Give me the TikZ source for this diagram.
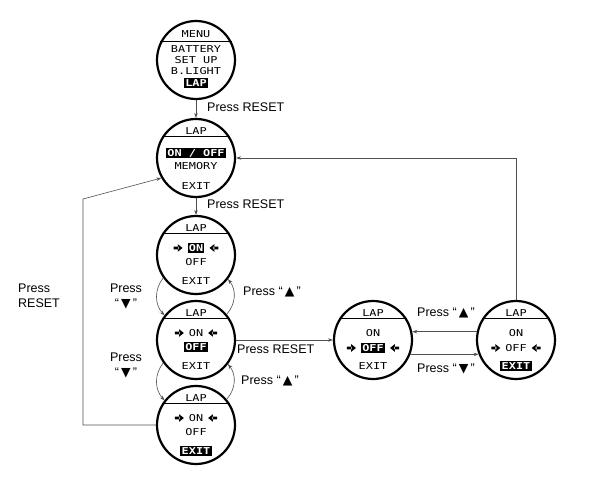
\documentclass[tikz,border=0pt]{standalone}
\usepackage{fontspec}
\setmainfont{Liberation Sans}
\newfontfamily\lcdfont[FakeStretch=1.25]{DejaVu Sans Mono}
\newfontfamily\symfont{DejaVu Sans}
\usetikzlibrary{arrows.meta, calc}
\definecolor{wire}{RGB}{80,80,80}
\newcommand{\keyup}{{\symfont ▲}}
\newcommand{\keydown}{{\symfont ▼}}
\newcommand{\selbox}[1]{{\setlength{\fboxsep}{1.3pt}\colorbox{black}{\textcolor{white}{\bfseries #1}}}}
\newcommand{\ptrR}{\tikz[baseline=-3.5pt]\fill (0pt,-1.4pt) rectangle (5pt,1.4pt) (4.2pt,-3.8pt) -- (9pt,0pt) -- (4.2pt,3.8pt) -- cycle;\kern5pt}
\newcommand{\ptrL}{\kern5pt\tikz[baseline=-3.5pt]\fill (9pt,-1.4pt) rectangle (4pt,1.4pt) (4.8pt,-3.8pt) -- (0pt,0pt) -- (4.8pt,3.8pt) -- cycle;}
\tikzset{
  screen/.style={circle, draw, line width=2.2pt, minimum size=78pt, inner sep=0pt},
  sepline/.style={line width=1.4pt},
  lcd/.style={font=\lcdfont\fontsize{9.5}{10}\selectfont, inner sep=0pt},
  lbl/.style={font=\fontsize{12.5}{15}\selectfont, inner sep=1pt},
  conn/.style={-{Stealth[length=5pt,width=3.5pt]}, line width=0.6pt, color=wire}
}
\begin{document}
\begin{tikzpicture}[x=1pt, y=-1pt]
  \useasboundingbox (0,0) rectangle (605,492);

  % screens
  \node[screen] (menu) at (196,60) {};
  \node[screen] (lapmenu) at (196,158) {};
  \node[screen] (seton) at (196,255) {};
  \node[screen] (setoff) at (196,340) {};
  \node[screen] (setexit) at (196,425) {};
  \node[screen] (offsel) at (373,340) {};
  \node[screen] (offexit) at (516,340) {};

  % main menu
  \node[lcd] (menuhd) at ([yshift=26pt]menu.center) {MENU};
  \draw[sepline] (menu.153) -- (menu.27);
  \node[lcd] (menubat) at ([yshift=11pt]menu.center) {BATTERY};
  \node[lcd] (menuset) at (menu.center) {SET UP};
  \node[lcd] (menubl) at ([yshift=-11pt]menu.center) {B.LIGHT};
  \node[lcd] (menulap) at ([yshift=-23pt]menu.center) {\selbox{LAP}};

  % lap menu
  \node[lcd] (laphd) at ([yshift=27pt]lapmenu.center) {LAP};
  \draw[sepline] (lapmenu.148) -- (lapmenu.32);
  \node[lcd] (lapon) at ([yshift=5pt]lapmenu.center) {\selbox{ON / OFF}};
  \node[lcd] (lapmem) at ([yshift=-8pt]lapmenu.center) {MEMORY};
  \node[lcd] (lapexit) at ([yshift=-28pt]lapmenu.center) {EXIT};

  % lap on/off screens
  \foreach \s in {seton, setoff, setexit, offsel, offexit} {
    \node[lcd] (\s hd) at ([yshift=27pt]\s.center) {LAP};
    \draw[sepline] (\s.148) -- (\s.32);
  }
  \node[lcd] (seton1) at ([yshift=7pt]seton.center) {\ptrR\selbox{ON}\ptrL};
  \node[lcd] (seton2) at ([yshift=-7pt]seton.center) {OFF};
  \node[lcd] (seton3) at ([yshift=-26pt]seton.center) {EXIT};
  \node[lcd] (setoff1) at ([yshift=7pt]setoff.center) {\ptrR ON\ptrL};
  \node[lcd] (setoff2) at ([yshift=-7pt]setoff.center) {\selbox{OFF}};
  \node[lcd] (setoff3) at ([yshift=-26pt]setoff.center) {EXIT};
  \node[lcd] (setexit1) at ([yshift=7pt]setexit.center) {\ptrR ON\ptrL};
  \node[lcd] (setexit2) at ([yshift=-7pt]setexit.center) {OFF};
  \node[lcd] (setexit3) at ([yshift=-26pt]setexit.center) {\selbox{EXIT}};
  \node[lcd] (offsel1) at ([yshift=7pt]offsel.center) {ON};
  \node[lcd] (offsel2) at ([yshift=-8pt]offsel.center) {\ptrR\selbox{OFF}\ptrL};
  \node[lcd] (offsel3) at ([yshift=-26pt]offsel.center) {EXIT};
  \node[lcd] (offexit1) at ([yshift=7pt]offexit.center) {ON};
  \node[lcd] (offexit2) at ([yshift=-8pt]offexit.center) {\ptrR OFF\ptrL};
  \node[lcd] (offexit3) at ([yshift=-26pt]offexit.center) {\selbox{EXIT}};

  % connectors
  \draw[conn] (menu) -- (lapmenu);
  \node[lbl, anchor=west] (resetA) at (206,107) {Press RESET};
  \draw[conn] (lapmenu) -- (seton);
  \node[lbl, anchor=west] (resetB) at (206,204) {Press RESET};

  \draw[conn] (seton.215) to[bend right=40] (setoff.142);
  \draw[conn] (setoff.40) to[bend right=40] (seton.-37);
  \draw[conn] (setoff.215) to[bend right=40] (setexit.142);
  \draw[conn] (setexit.40) to[bend right=40] (setoff.-37);
  \node[lbl, align=center] (downA) at (126,296) {Press\\“\,\keydown\,”};
  \node[lbl, align=center] (downB) at (126,365) {Press\\“\,\keydown\,”};
  \node[lbl, anchor=west] (upA) at (242,292) {Press “\,\keyup\,”};
  \node[lbl, anchor=west] (upB) at (240,381) {Press “\,\keyup\,”};

  \draw[conn] (setoff.east) -- (offsel.west);
  \node[lbl, anchor=west] (resetC) at (236,349) {Press RESET};
  \draw[conn] (offexit.168) -- (offsel.12);
  \draw[conn] (offsel.-21) -- (offexit.201);
  \node[lbl] (upC) at (446,313) {Press “\,\keyup\,”};
  \node[lbl] (downC) at (446,369) {Press “\,\keydown\,”};

  \draw[conn] (offexit.north) |- (lapmenu.east);
  \coordinate (backL) at (83,199);
  \draw[conn] (setexit.west) -| (backL) -- (lapmenu.210);
  \node[lbl, align=left, anchor=west] (resetD) at (17,296) {Press\\RESET};
\end{tikzpicture}
\end{document}
